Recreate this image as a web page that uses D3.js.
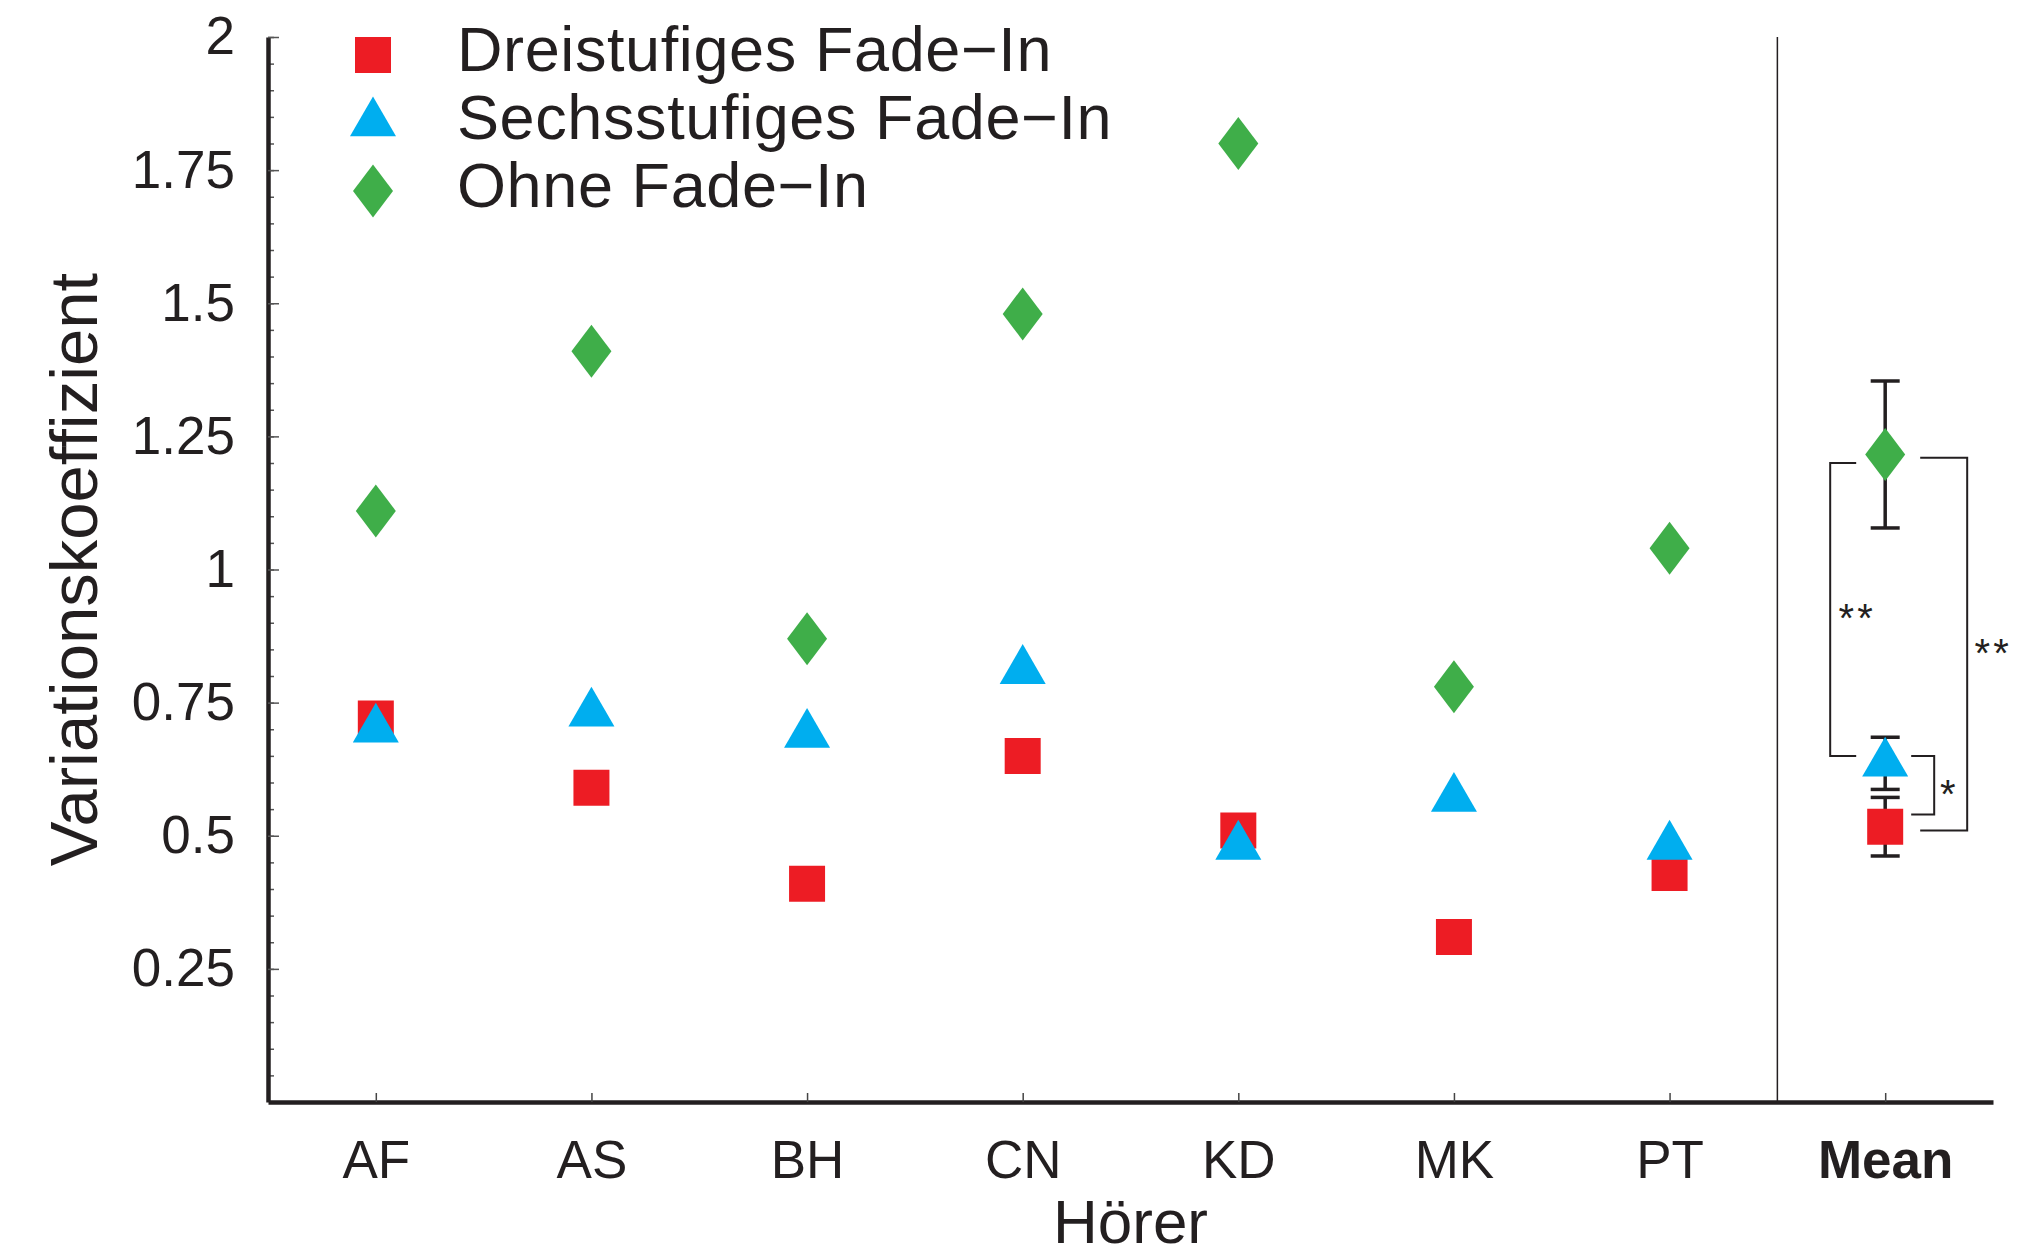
<!DOCTYPE html>
<html lang="de">
<head>
    <meta charset="UTF-8">
    <title>Variationskoeffizient</title>
    <script src="https://d3js.org/d3.v7.min.js"></script>
    <style>
        body { margin: 0; background: #fff; }
        svg text { font-family: "Liberation Sans", Arial, Helvetica, sans-serif; fill: #231f20; }
    </style>
</head>
<body>
<div id="chart"></div>
<script>
    const listeners = ["AF", "AS", "BH", "CN", "KD", "MK", "PT", "Mean"];
    const seriesNames = ["Dreistufiges Fade−In", "Sechsstufiges Fade−In", "Ohne Fade−In"];
    const dreistufig = [0.72, 0.59, 0.41, 0.65, 0.51, 0.31, 0.43, 0.517];
    const sechsstufig = [0.70, 0.73, 0.69, 0.81, 0.48, 0.57, 0.48, 0.636];
    const ohne = [1.11, 1.41, 0.87, 1.48, 1.80, 0.78, 1.04, 1.216];
    // error bars only on the Mean column
    const meanErrors = [0.055, 0.049, 0.138];
    const yTicks = [0.25, 0.5, 0.75, 1, 1.25, 1.5, 1.75, 2];
    // significance brackets between the means
    const sigLeft = {from: 1.20, to: 0.65, label: "**"};
    const sigOuter = {from: 1.21, to: 0.51, label: "**"};
    const sigInner = {from: 0.65, to: 0.54, label: "*"};

    const ink = "#231f20";
    const colors = ["#ed1c24", "#00aeef", "#3fae49"];

    function createChart(width, height) {
        const svg = d3.select("#chart").append("svg")
            .attr("width", width)
            .attr("height", height)
            .attr("viewBox", [0, 0, width, height]);

        const x = d3.scalePoint()
            .domain(listeners)
            .range([268, 1993])
            .padding(0.5);

        const y = d3.scaleLinear()
            .domain([0, 2])
            .range([1102, 37]);

        // markers
        const square = d3.symbol(d3.symbolSquare, 36 * 36);
        const triangle = d3.symbol(d3.symbolTriangle, 917);
        const diamondType = {
            draw(ctx) {
                ctx.moveTo(0, -26.5);
                ctx.lineTo(20, 0);
                ctx.lineTo(0, 26.5);
                ctx.lineTo(-20, 0);
                ctx.closePath();
            }
        };
        const diamond = d3.symbol(diamondType);
        const shapes = [square, triangle, diamond];
        const series = [dreistufig, sechsstufig, ohne];

        // minor y ticks
        svg.append("g")
            .attr("transform", `translate(${x.range()[0]},0)`)
            .call(d3.axisLeft(y).tickValues(d3.range(0.05, 2.0001, 0.05)).tickSize(-6).tickFormat(""))
            .call(g => g.select(".domain").remove())
            .call(g => g.selectAll("line").attr("stroke", "#555").attr("stroke-width", 1.5));

        // major y ticks + labels
        svg.append("g")
            .attr("transform", `translate(${x.range()[0]},0)`)
            .call(d3.axisLeft(y).tickValues(yTicks).tickSize(-11).tickSizeOuter(0).tickPadding(33).tickFormat(d3.format("")))
            .call(g => g.select(".domain").attr("stroke", ink).attr("stroke-width", 4.5))
            .call(g => g.selectAll("line").attr("stroke", "#555").attr("stroke-width", 1.5))
            .call(g => g.selectAll("text").attr("font-size", 53).attr("fill", ink)
                .attr("font-family", "Liberation Sans, Arial, sans-serif"));

        // x axis
        svg.append("g")
            .attr("transform", `translate(0,${y(0)})`)
            .call(d3.axisBottom(x).tickSize(-9).tickSizeOuter(0).tickPadding(38))
            .call(g => g.select(".domain").attr("stroke", ink).attr("stroke-width", 4.5))
            .call(g => g.selectAll("line").attr("stroke", "#444").attr("stroke-width", 1.5))
            .call(g => g.selectAll("text").attr("font-size", 53).attr("fill", ink)
                .attr("font-family", "Liberation Sans, Arial, sans-serif")
                .attr("font-weight", d => d === "Mean" ? "bold" : null));

        // separator between listeners and mean
        const sepX = (x("PT") + x("Mean")) / 2;
        svg.append("line")
            .attr("x1", sepX).attr("x2", sepX)
            .attr("y1", y(2)).attr("y2", y(0))
            .attr("stroke", ink).attr("stroke-width", 1.5);

        // axis titles
        svg.append("text")
            .attr("transform", `translate(97,${y(1)}) rotate(-90)`)
            .attr("text-anchor", "middle")
            .attr("font-size", 67)
            .text("Variationskoeffizient");

        svg.append("text")
            .attr("x", (x.range()[0] + x.range()[1]) / 2)
            .attr("y", 1243)
            .attr("text-anchor", "middle")
            .attr("font-size", 62)
            .text("Hörer");

        // error bars for mean
        const xm = x("Mean");
        const errG = svg.append("g").attr("stroke", ink).attr("stroke-width", 3.5).attr("fill", "none");
        series.forEach((s, i) => {
            const m = s[s.length - 1], e = meanErrors[i];
            errG.append("line").attr("x1", xm).attr("x2", xm).attr("y1", y(m - e)).attr("y2", y(m + e));
            errG.append("line").attr("x1", xm - 14.5).attr("x2", xm + 14.5).attr("y1", y(m - e)).attr("y2", y(m - e));
            errG.append("line").attr("x1", xm - 14.5).attr("x2", xm + 14.5).attr("y1", y(m + e)).attr("y2", y(m + e));
        });

        // points
        series.forEach((s, i) => {
            svg.append("g").selectAll("path")
                .data(s)
                .join("path")
                .attr("d", shapes[i])
                .attr("transform", (d, j) => `translate(${x(listeners[j])},${y(d)})`)
                .attr("fill", colors[i]);
        });

        // significance brackets
        const brG = svg.append("g").attr("stroke", ink).attr("stroke-width", 2).attr("fill", "none");
        brG.append("path")
            .attr("d", `M${xm - 29},${y(sigLeft.from)}H${xm - 55}V${y(sigLeft.to)}H${xm - 29}`);
        brG.append("path")
            .attr("d", `M${xm + 35},${y(sigOuter.from)}H${xm + 82}V${y(sigOuter.to)}H${xm + 35}`);
        brG.append("path")
            .attr("d", `M${xm + 26},${y(sigInner.from)}H${xm + 49}V${y(sigInner.to)}H${xm + 26}`);

        const starFs = 40;
        [[sigLeft, xm - 28], [sigOuter, xm + 108], [sigInner, xm + 64]].forEach(([s, sx]) => {
            svg.append("text")
                .attr("x", sx)
                .attr("y", y((s.from + s.to) / 2) + starFs * 0.57)
                .attr("text-anchor", "middle")
                .attr("font-size", starFs)
                .attr("letter-spacing", 3)
                .text(s.label);
        });

        // legend
        const legend = svg.append("g");
        seriesNames.forEach((name, i) => {
            const ly = 55 + i * 68;
            legend.append("path")
                .attr("d", shapes[i])
                .attr("transform", `translate(373,${ly})`)
                .attr("fill", colors[i]);
            legend.append("text")
                .attr("x", 457)
                .attr("y", ly + 16)
                .attr("font-size", 63)
                .attr("letter-spacing", 0.6)
                .text(name);
        });

        return svg.node();
    }

    document.addEventListener("DOMContentLoaded", () => {
        createChart(2042, 1258);
    });
</script>
</body>
</html>
